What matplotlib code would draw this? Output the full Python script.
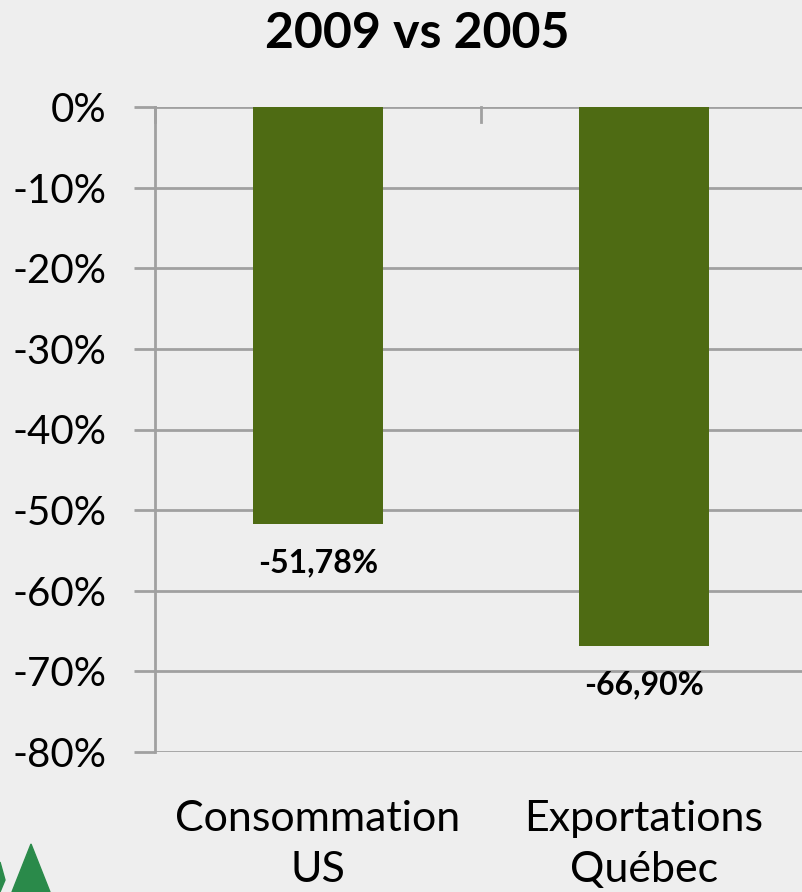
import matplotlib.pyplot as plt
from matplotlib.patches import Polygon

categories = ['Consommation\nUS', 'Exportations\nQuébec']
values = [-51.78, -66.90]
value_labels = ['-51,78%', '-66,90%']
yticks = [0, -10, -20, -30, -40, -50, -60, -70, -80]

plt.rcParams['font.family'] = ['Lato', 'DejaVu Sans']

bg = '#EEEEEE'
grid_col = '#A0A0A0'
bar_col = '#4E6B13'

fig = plt.figure(figsize=(8.03, 8.92), dpi=100, facecolor=bg)
ax = fig.add_axes([155 / 803, 1 - 752 / 892, 652 / 803, 645 / 892], facecolor=bg)

x = range(len(categories))
ax.bar(x, values, width=0.4, color=bar_col, zorder=3)

for i, (v, lab) in enumerate(zip(values, value_labels)):
    ax.text(i, v - 3.0, lab, ha='center', va='top', fontsize=23, fontweight='bold')

ax.set_xlim(-0.5, 1.5)
ax.set_ylim(-80, 0)
ax.set_yticks(yticks)
ax.set_yticklabels([f'{t}%' for t in yticks], fontsize=29)
ax.yaxis.grid(True, color=grid_col, linewidth=2, zorder=0)
ax.tick_params(axis='y', length=15, width=2, color=grid_col, pad=20)

# category axis sits at the 0 line, ticks between categories
ax.set_xticks([])
for xb in [-0.5, 0.5, 1.5]:
    ax.plot([xb, xb], [0, -1.9], color=grid_col, lw=2, clip_on=False, zorder=2)

for i, c in enumerate(categories):
    ax.text(i, -86.0, c, ha='center', va='top', fontsize=31, linespacing=1.42)

for s in ['top', 'right', 'bottom']:
    ax.spines[s].set_visible(False)
ax.spines['left'].set_color(grid_col)
ax.spines['left'].set_linewidth(2)

fig.text(0.52, 1 - 33 / 892, '2009 vs 2005', ha='center', va='center',
         fontsize=36, fontweight='bold')

# logo triangles in the bottom left corner
fig.patches.append(Polygon([[12 / 803, 0], [31 / 803, 1 - 844 / 892], [50 / 803, 0]],
                           closed=True, transform=fig.transFigure, color='#2A8A4A'))
fig.patches.append(Polygon([[0, 0], [0, 1 - 862 / 892], [5 / 803, 1 - 880 / 892], [0, 1 - 892 / 892]],
                           closed=True, transform=fig.transFigure, color='#2A8A4A'))

fig.savefig('out.png', dpi=100, facecolor=bg)
